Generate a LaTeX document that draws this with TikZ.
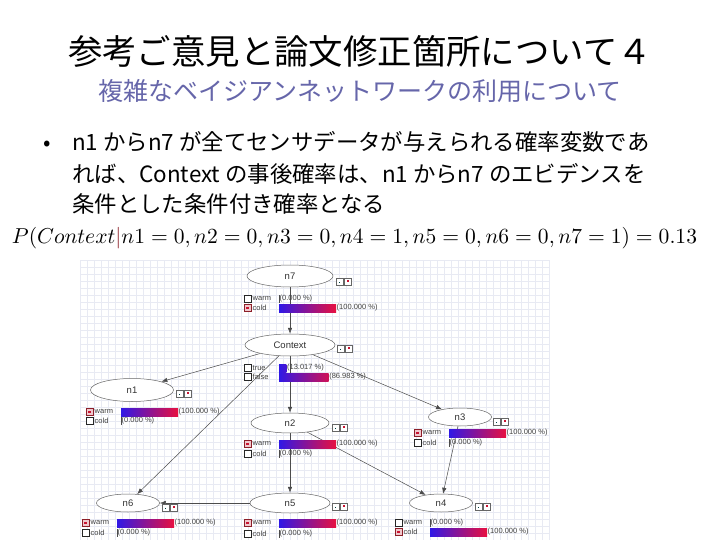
\documentclass[tikz,border=0pt]{standalone}
\usepackage{fontspec}
\setmainfont{Noto Sans CJK JP}
\newfontfamily\bnfont{Liberation Sans}
\usepackage{graphicx}
\usetikzlibrary{shapes.geometric,arrows.meta,backgrounds}
\definecolor{subblue}{RGB}{102,102,170}
\definecolor{barblue}{RGB}{48,24,230}
\definecolor{barred}{RGB}{232,16,64}
\definecolor{chkred}{RGB}{140,30,40}
\definecolor{chkfill}{RGB}{240,200,205}
\definecolor{chkdot}{RGB}{200,20,50}
\definecolor{gridc}{RGB}{232,234,243}
\tikzset{
  bnell/.style={ellipse, draw=black!60, fill=white, inner sep=0pt, line width=0.5pt,
    font=\bnfont\fontsize{9.5}{10}\selectfont, text=black!80},
  bntext/.style={font=\bnfont\fontsize{7.5}{8}\selectfont, text=black!75, inner sep=0.5pt},
  bnedge/.style={draw=black!70, line width=0.5pt, -{Latex[length=6pt,width=4.5pt]}},
  btnbox/.style={draw=black!60, fill=white, line width=0.5pt},
  bodytext/.style={anchor=base west, inner sep=0pt, font=\fontsize{22.4}{26}\selectfont},
}
% #1 name, #2 cx, #3 y, #4 checked, #5 label, #6 pct, #7 value
\newcommand\bnrow[7]{%
  \ifnum#4=1\relax
    \draw[draw=chkred, fill=chkfill, line width=0.6pt] (#2-46,#3-3.5) rectangle ++(7,7);
    \fill[chkdot] (#2-43.7,#3-1.2) rectangle ++(2.4,2.4);
  \else
    \draw[draw=black!85, fill=white, line width=0.6pt] (#2-46,#3-3.5) rectangle ++(7,7);
  \fi
  \node[bntext, anchor=west] (#1lab) at (#2-38,#3) {#5};
  \ifnum#6>0\relax
    \shade[left color=barblue, right color=barred!#6!barblue] (#2-11,#3-4) rectangle (#2-11+0.57*#6,#3+4);
    \node[bntext, anchor=west] (#1val) at (#2-11+0.57*#6,#3) {#7};
  \else
    \draw[black!70, line width=0.4pt] (#2-11,#3-4) -- (#2-11,#3+4);
    \node[bntext, anchor=west] (#1val) at (#2-11,#3) {#7};
  \fi
}
% #1 x, #2 y (top-left)
\newcommand\bnbtn[2]{%
  \draw[btnbox] (#1,#2) rectangle ++(7,7);
  \fill[teal!50!black] (#1+2.8,#2+3.8) rectangle ++(1.6,1.6);
  \draw[btnbox] (#1+8,#2) rectangle ++(7,7);
  \fill[chkdot] (#1+10.5,#2+1.8) rectangle ++(2,2);
}
\begin{document}
\begin{tikzpicture}[x=1pt,y=-1pt]
\useasboundingbox (0,0) rectangle (720,540);

% headings
\node[anchor=base, inner sep=0pt, font=\fontsize{34.4}{40}\selectfont] (title) at (360,65) {参考ご意見と論文修正箇所について４};
\node[anchor=base, inner sep=0pt, font=\fontsize{25}{30}\selectfont, text=subblue] (subtitle) at (360,101) {複雑なベイジアンネットワークの利用について};
\node[anchor=base, inner sep=0pt, font=\fontsize{22}{26}\selectfont] (bullet) at (47,151) {•};
\node[bodytext] (line1) at (72,151) {n1 からn7 が全てセンサデータが与えられる確率変数であ};
\node[bodytext] (line2) at (72,183) {れば、Context の事後確率は、n1 からn7 のエビデンスを};
\node[bodytext] (line3) at (72,213) {条件とした条件付き確率となる};
\node[inner sep=0pt] (formula) at (354.5,238) {\resizebox{685pt}{!}{$P(Context{\color{chkred}|}n1=0,n2=0,n3=0,n4=1,n5=0,n6=0,n7=1)=0.13$}};

% network nodes
\node[bnell, minimum width=86pt, minimum height=22pt] (n7) at (290,276) {n7};
\bnbtn{336}{278}
\bnrow{n7w}{290}{299}{0}{warm}{0}{(0.000 \%)}
\bnrow{n7c}{290}{308}{1}{cold}{100}{(100.000 \%)}

\node[bnell, minimum width=90pt, minimum height=22pt] (ctx) at (290,345) {Context};
\bnbtn{337}{345}
\bnrow{ctxt}{290}{368}{0}{true}{13}{(13.017 \%)}
\bnrow{ctxf}{290}{377}{0}{false}{87}{(86.983 \%)}

\node[bnell, minimum width=83pt, minimum height=23pt] (n1) at (132,390) {n1};
\bnbtn{176}{390}
\bnrow{n1w}{132}{412}{1}{warm}{100}{(100.000 \%)}
\bnrow{n1c}{132}{421}{0}{cold}{0}{(0.000 \%)}

\node[bnell, minimum width=78pt, minimum height=20pt] (n2) at (290,423) {n2};
\bnbtn{332}{424}
\bnrow{n2w}{290}{444}{1}{warm}{100}{(100.000 \%)}
\bnrow{n2c}{290}{454}{0}{cold}{0}{(0.000 \%)}

\node[bnell, minimum width=63pt, minimum height=18pt] (n3) at (460,417) {n3};
\bnbtn{493}{418}
\bnrow{n3w}{460}{433}{1}{warm}{100}{(100.000 \%)}
\bnrow{n3c}{460}{443}{0}{cold}{0}{(0.000 \%)}

\node[bnell, minimum width=63pt, minimum height=18pt] (n6) at (128,503) {n6};
\bnbtn{162}{504}
\bnrow{n6w}{128}{523}{1}{warm}{100}{(100.000 \%)}
\bnrow{n6c}{128}{533}{0}{cold}{0}{(0.000 \%)}

\node[bnell, minimum width=80pt, minimum height=20pt] (n5) at (290,503) {n5};
\bnbtn{332}{503}
\bnrow{n5w}{290}{523}{1}{warm}{100}{(100.000 \%)}
\bnrow{n5c}{290}{534}{0}{cold}{0}{(0.000 \%)}

\node[bnell, minimum width=63pt, minimum height=18pt] (n4) at (441,503) {n4};
\bnbtn{475}{503}
\bnrow{n4w}{441}{523}{0}{warm}{0}{(0.000 \%)}
\bnrow{n4c}{441}{532}{1}{cold}{100}{(100.000 \%)}

\begin{pgfonlayer}{background}
  \fill[white] (0,0) rectangle (720,540);
  \foreach \gx in {80,87,...,550} \draw[gridc, line width=0.5pt] (\gx,260) -- (\gx,540);
  \foreach \gy in {260,267,...,540} \draw[gridc, line width=0.5pt] (80,\gy) -- (550,\gy);
  \draw[bnedge] (n7) -- (ctx);
  \draw[bnedge] (ctx) -- (n1);
  \draw[bnedge] (ctx) -- (n6);
  \draw[bnedge] (ctx) -- (n2);
  \draw[bnedge] (ctx) -- (n3);
  \draw[bnedge] (n2) -- (n4);
  \draw[bnedge] (n3) -- (n4);
  \draw[bnedge] (n2) -- (n5);
  \draw[bnedge] (n5) -- (n6);
\end{pgfonlayer}
\end{tikzpicture}
\end{document}
